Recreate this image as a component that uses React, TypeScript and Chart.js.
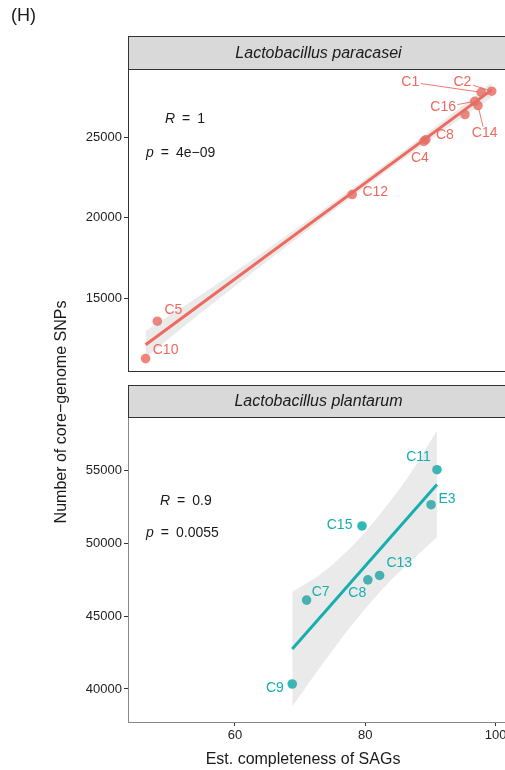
import React, { useEffect, useRef } from "react";
import { Chart, registerables } from "chart.js";
Chart.register(...registerables);

// ---- data ----
const xTicks = [60, 80, 100];
const topYTicks = [15000, 20000, 25000];
const bottomYTicks = [40000, 45000, 50000, 55000];

const paraNames = ["C10", "C5", "C12", "C4", "C8", "", "C16", "C14", "C1", "C2"];
const paraX = [46.3, 48.1, 78.0, 89.0, 89.3, 95.3, 96.8, 97.3, 97.8, 99.4];
const paraY = [11235, 13560, 21440, 24750, 24850, 26420, 27240, 26975, 27800, 27870];
const paraFitX = [46.3, 99.4];
const paraFitY = [12100, 27950];
const paraBandX = [46.3, 55, 65, 75, 85, 92, 99.4];
const paraBandUpper = [12950, 15250, 18050, 20930, 23900, 26050, 28400];
const paraBandLower = [11300, 14150, 17300, 20400, 23400, 25430, 27500];

const plantNames = ["C11", "E3", "C15", "C13", "C8", "C7", "C9"];
const plantX = [91.0, 90.1, 79.5, 82.2, 80.4, 71.0, 68.8];
const plantY = [55050, 52650, 51190, 47790, 47490, 46100, 40340];
const plantFitX = [68.8, 91.0];
const plantFitY = [42740, 54030];
const plantBandX = [68.8, 72, 75, 78, 81, 84, 87, 91];
const plantBandUpper = [46670, 47530, 48550, 49810, 51310, 52990, 54850, 57750];
const plantBandLower = [38800, 40820, 42660, 44420, 46040, 47490, 48770, 50410];

// ---- label layout (pixel offsets from point) ----
const paraLabelDx = [20, 16, 23, -4, 19, 0, -31.6, 6.6, -71, -29.3];
const paraLabelDy = [-8, -11, -2, 17, -5, 0, 6, 27.7, -10.3, -9.3];
const paraLabelSeg = [false, false, false, false, false, false, true, true, true, true];
const plantLabelDx = [-18.4, 16, -22.4, 19.7, -10.6, 14, -17.3];
const plantLabelDy = [-12.7, -6, -1, -12.3, 13.3, -8.4, 4.3];
const plantLabelSeg = [false, false, false, false, false, false, false];

const FONT = '"Liberation Sans", Arial, Helvetica, sans-serif';
const RED = "#EE6A5F";
const RED_PT = "rgba(238,106,95,0.82)";
const TEAL = "#17AEAE";
const TEAL_PT = "rgba(23,174,174,0.88)";
const BAND = "rgba(150,150,150,0.2)";

const CW = 520;
const CH = 770;
const PLOT_LEFT = 128;
const PLOT_RIGHT = 508;

function pts(xs: number[], ys: number[]) {
  return xs.map((x, i) => ({ x, y: ys[i] }));
}

function drawLabels(chart: any, dsIndex: number, names: string[], dx: number[], dy: number[], seg: boolean[], color: string) {
  const ctx = chart.ctx;
  const meta = chart.getDatasetMeta(dsIndex);
  ctx.save();
  ctx.font = `14px ${FONT}`;
  ctx.fillStyle = color;
  ctx.strokeStyle = color;
  ctx.lineWidth = 0.9;
  ctx.textAlign = "center";
  ctx.textBaseline = "middle";
  names.forEach((n, i) => {
    if (!n) return;
    const p = meta.data[i];
    const lx = p.x + dx[i];
    const ly = p.y + dy[i];
    ctx.fillText(n, lx, ly);
    if (seg[i]) {
      const w = ctx.measureText(n).width / 2 + 1.5;
      const h = 6.5;
      const vx = p.x - lx;
      const vy = p.y - ly;
      const t = Math.min(w / Math.abs(vx || 1e-9), h / Math.abs(vy || 1e-9));
      const sx = lx + vx * t;
      const sy = ly + vy * t;
      const len = Math.hypot(vx, vy);
      const ex = p.x - (vx / len) * 3;
      const ey = p.y - (vy / len) * 3;
      ctx.beginPath();
      ctx.moveTo(sx, sy);
      ctx.lineTo(ex, ey);
      ctx.stroke();
    }
  });
  ctx.restore();
}

function drawStat(ctx: CanvasRenderingContext2D, x: number, y: number, letter: string, value: string) {
  ctx.save();
  ctx.fillStyle = "#1a1a1a";
  ctx.textBaseline = "middle";
  ctx.textAlign = "left";
  ctx.font = `italic 14px ${FONT}`;
  ctx.fillText(letter, x, y);
  let cx = x + ctx.measureText(letter).width + 7;
  ctx.font = `14px ${FONT}`;
  ctx.fillText("=", cx, y);
  cx += ctx.measureText("=").width + 7;
  ctx.fillText(value, cx, y);
  ctx.restore();
}

function drawStrip(ctx: CanvasRenderingContext2D, left: number, right: number, top: number, bottom: number, title: string) {
  ctx.save();
  ctx.fillStyle = "#D9D9D9";
  ctx.fillRect(left, top, right - left, bottom - top);
  ctx.strokeStyle = "#333333";
  ctx.lineWidth = 1;
  ctx.strokeRect(left + 0.5, top + 0.5, right - left - 1, bottom - top);
  ctx.fillStyle = "#1a1a1a";
  ctx.font = `italic 16px ${FONT}`;
  ctx.textAlign = "center";
  ctx.textBaseline = "middle";
  ctx.fillText(title, (left + right) / 2, (top + bottom) / 2 + 1);
  ctx.restore();
}

function buildDatasets(px: number[], py: number[], fx: number[], fy: number[], bx: number[], bu: number[], bl: number[], lineColor: string, ptColor: string) {
  return [
    {
      type: "scatter",
      data: pts(px, py),
      backgroundColor: ptColor,
      borderWidth: 0,
      pointRadius: 4.8,
      order: 4,
    },
    {
      type: "line",
      data: pts(bx, bu),
      borderWidth: 0,
      pointRadius: 0,
      backgroundColor: BAND,
      fill: "+1",
      cubicInterpolationMode: "monotone",
      order: 3,
    },
    {
      type: "line",
      data: pts(bx, bl),
      borderWidth: 0,
      pointRadius: 0,
      fill: false,
      cubicInterpolationMode: "monotone",
      order: 2,
    },
    {
      type: "line",
      data: pts(fx, fy),
      borderColor: lineColor,
      borderWidth: 3,
      pointRadius: 0,
      fill: false,
      borderCapStyle: "butt",
      order: 1,
    },
  ];
}

const tickFmt = (v: any) => String(v);

function yScale(min: number, max: number, ticks: number[], borderColor: string, showBorder: boolean) {
  return {
    type: "linear",
    min,
    max,
    afterBuildTicks: (s: any) => {
      s.ticks = ticks.map((v) => ({ value: v }));
    },
    afterFit: (s: any) => {
      s.width = PLOT_LEFT;
    },
    grid: { drawOnChartArea: false, drawTicks: true, tickLength: 4, color: "#333333", lineWidth: 1 },
    border: { display: showBorder, color: borderColor, width: 1 },
    ticks: { font: { family: FONT, size: 13 }, color: "#222222", padding: 2, callback: tickFmt },
  };
}

export default function App() {
  const topRef = useRef<HTMLCanvasElement>(null);
  const botRef = useRef<HTMLCanvasElement>(null);

  useEffect(() => {
    const xMin = 43.6;
    const xMax = 101.9;

    const topPlugin = {
      id: "topDeco",
      afterDatasetsDraw(chart: any) {
        const ctx = chart.ctx;
        const a = chart.chartArea;
        ctx.save();
        ctx.strokeStyle = "#333333";
        ctx.lineWidth = 1;
        ctx.strokeRect(Math.round(a.left) + 0.5, Math.round(a.top) + 0.5, a.right - a.left, a.bottom - a.top - 1);
        ctx.restore();
        drawStrip(ctx, a.left, a.right + 1, 36, a.top, "Lactobacillus paracasei");
        drawLabels(chart, 0, paraNames, paraLabelDx, paraLabelDy, paraLabelSeg, RED);
        drawStat(ctx, a.left + 37, a.top + 50, "R", "1");
        drawStat(ctx, a.left + 18, a.top + 84, "p", "4e\u221209");
        ctx.save();
        ctx.fillStyle = "#1a1a1a";
        ctx.font = `18px ${FONT}`;
        ctx.textAlign = "left";
        ctx.textBaseline = "middle";
        ctx.fillText("(H)", 11, 16);
        ctx.font = `16px ${FONT}`;
        ctx.translate(62, 412);
        ctx.rotate(-Math.PI / 2);
        ctx.textAlign = "center";
        ctx.fillText("Number of core\u2212genome SNPs", 0, 0);
        ctx.restore();
      },
    };

    const botPlugin = {
      id: "botDeco",
      afterDatasetsDraw(chart: any) {
        const ctx = chart.ctx;
        const a = chart.chartArea;
        drawStrip(ctx, a.left, a.right + 1, 385, a.top, "Lactobacillus plantarum");
        drawLabels(chart, 0, plantNames, plantLabelDx, plantLabelDy, plantLabelSeg, TEAL);
        drawStat(ctx, a.left + 32, a.top + 84, "R", "0.9");
        drawStat(ctx, a.left + 18, a.top + 116, "p", "0.0055");
        ctx.save();
        ctx.fillStyle = "#1a1a1a";
        ctx.font = `16px ${FONT}`;
        ctx.textAlign = "center";
        ctx.textBaseline = "middle";
        ctx.fillText("Est. completeness of SAGs", 303, 760);
        ctx.restore();
      },
    };

    const common = {
      responsive: false,
      animation: false,
      devicePixelRatio: 1,
      events: [],
      plugins: { legend: { display: false }, tooltip: { enabled: false } },
    };

    const top = new Chart(topRef.current as HTMLCanvasElement, {
      type: "scatter",
      data: {
        datasets: buildDatasets(paraX, paraY, paraFitX, paraFitY, paraBandX, paraBandUpper, paraBandLower, RED, RED_PT) as any,
      },
      options: {
        ...common,
        layout: { padding: { top: 69, bottom: CH - 372, left: 0, right: CW - PLOT_RIGHT } },
        scales: {
          x: { type: "linear", min: xMin, max: xMax, display: false },
          y: yScale(10400, 29250, topYTicks, "#333333", false),
        },
      } as any,
      plugins: [topPlugin],
    });

    const bot = new Chart(botRef.current as HTMLCanvasElement, {
      type: "scatter",
      data: {
        datasets: buildDatasets(plantX, plantY, plantFitX, plantFitY, plantBandX, plantBandUpper, plantBandLower, TEAL, TEAL_PT) as any,
      },
      options: {
        ...common,
        layout: { padding: { top: 417, bottom: 0, left: 0, right: CW - PLOT_RIGHT } },
        scales: {
          x: {
            type: "linear",
            min: xMin,
            max: xMax,
            afterBuildTicks: (s: any) => {
              s.ticks = xTicks.map((v) => ({ value: v }));
            },
            afterFit: (s: any) => {
              s.height = CH - 722;
            },
            grid: { drawOnChartArea: false, drawTicks: true, tickLength: 4, color: "#333333", lineWidth: 1 },
            border: { display: true, color: "#888888", width: 1 },
            ticks: { font: { family: FONT, size: 13 }, color: "#222222", padding: 2, maxRotation: 0, callback: tickFmt },
          },
          y: yScale(37730, 58670, bottomYTicks, "#888888", true),
        },
      } as any,
      plugins: [botPlugin],
    });

    return () => {
      top.destroy();
      bot.destroy();
    };
  }, []);

  const canvasStyle: React.CSSProperties = { position: "absolute", left: 0, top: 0, width: CW, height: CH };
  return (
    <div style={{ position: "absolute", left: 0, top: 0, width: 505, height: 770, overflow: "hidden", background: "#fff" }}>
      <canvas ref={botRef} width={CW} height={CH} style={canvasStyle} />
      <canvas ref={topRef} width={CW} height={CH} style={canvasStyle} />
    </div>
  );
}
